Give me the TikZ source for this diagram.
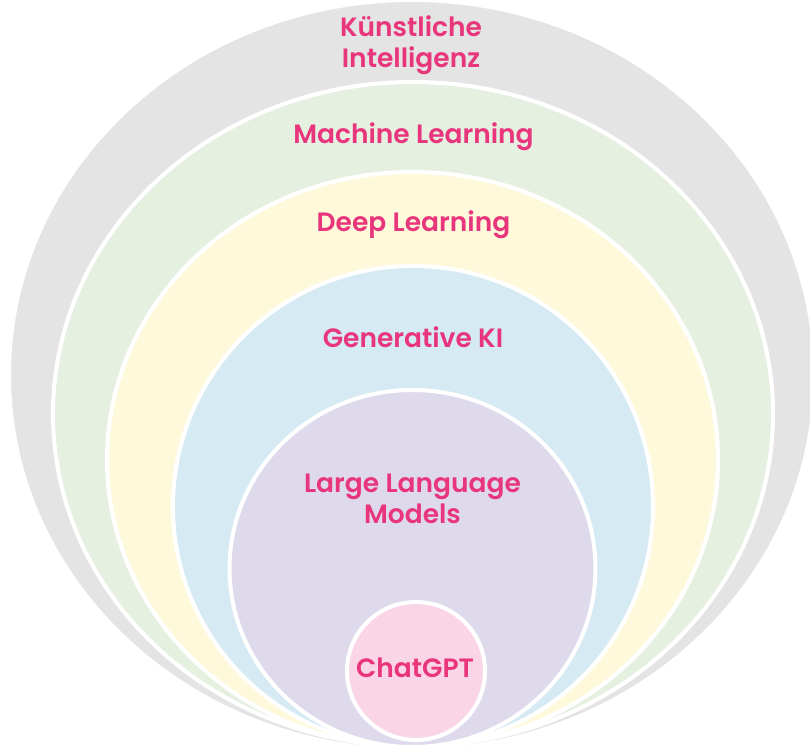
\documentclass[tikz,border=0pt]{standalone}
\usepackage{fontspec}
\setmainfont{Poppins SemiBold}
\definecolor{kigray}{HTML}{E4E4E4}
\definecolor{mlgreen}{HTML}{E6F0E1}
\definecolor{dlyellow}{HTML}{FEF9DB}
\definecolor{genblue}{HTML}{D5EAF3}
\definecolor{llmpurple}{HTML}{DEDAEC}
\definecolor{gptpink}{HTML}{F9D5E6}
\definecolor{labelpink}{HTML}{E8357C}
\tikzset{
	layer/.style = {draw = white, line width = 4pt},
	fieldname/.style = {text = labelpink, font = \fontsize{26.5}{31}\selectfont, align = center, anchor = base, inner sep = 0pt}
}
\begin{document}
\begin{tikzpicture}[x = 1pt, y = 1pt]
		\useasboundingbox (0,0) rectangle (810,750);
		\draw[layer, fill = kigray] (412,375) ellipse [x radius = 403, y radius = 375];
		\draw[layer, fill = mlgreen] (413,336) ellipse [x radius = 360, y radius = 332];
		\draw[layer, fill = dlyellow] (412.5,290.5) ellipse [x radius = 305.5, y radius = 287.5];
		\draw[layer, fill = genblue] (413,243.5) ellipse [x radius = 240, y radius = 240.5];
		\draw[layer, fill = llmpurple] (412.5,181.5) ellipse [x radius = 183, y radius = 178.5];
		\draw[layer, fill = gptpink] (416,79) circle [radius = 69];
		\node[fieldname] (ki) at (411,682) {Künstliche\\Intelligenz};
		\node[fieldname] (ml) at (413.5,606) {Machine Learning};
		\node[fieldname] (dl) at (413.5,518) {Deep Learning};
		\node[fieldname] (gen) at (413,402) {Generative KI};
		\node[fieldname] (llm) at (412.5,227) {Large Language\\Models};
		\node[fieldname] (gpt) at (415,73) {ChatGPT};
	\end{tikzpicture}
\end{document}
